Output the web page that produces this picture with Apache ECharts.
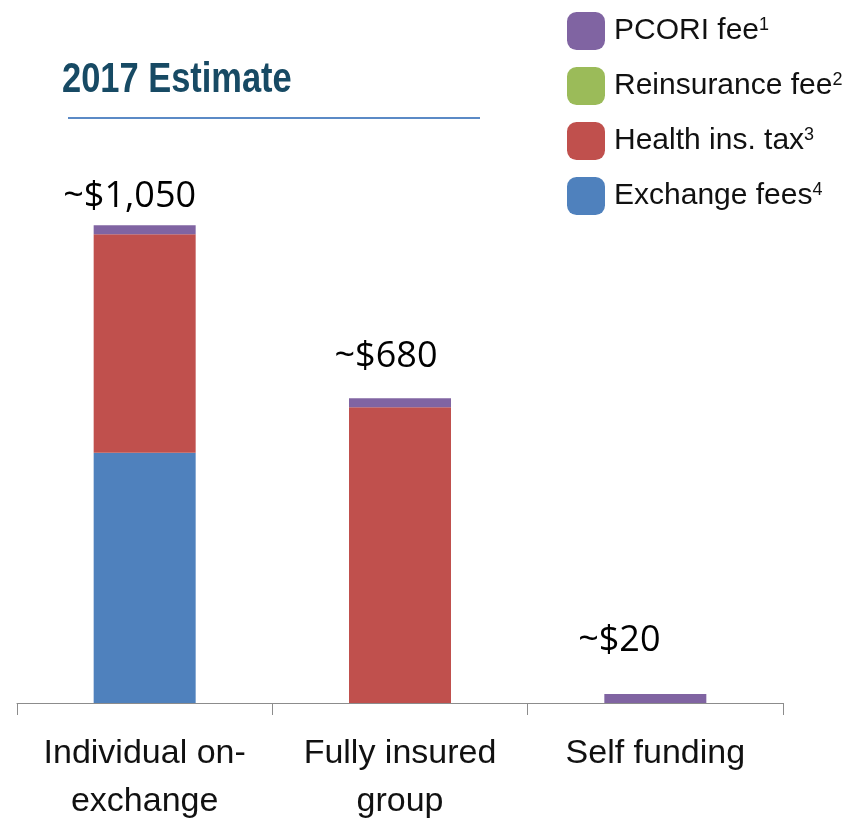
<!DOCTYPE html>
<html>
<head>
<meta charset="utf-8">
<script src="https://cdn.jsdelivr.net/npm/echarts@6/dist/echarts.min.js"></script>
<style>html,body{margin:0;padding:0;background:#fff}#c{width:850px;height:822px}</style>
</head>
<body>
<div id="c"></div>
<script>
const categories = ['Individual on-\nexchange', 'Fully insured\ngroup', 'Self funding'];
const exchangeFees = [550, 0, 0];
const healthInsTax = [480, 650, 0];
const reinsuranceFee = [0, 0, 0];
const pcoriFee = [20, 20, 20];
const totalLabels = ['~$1,050', '~$680', '~$20'];
const seriesNames = ['PCORI fee', 'Reinsurance fee', 'Health ins. tax', 'Exchange fees'];
const seriesNotes = ['1', '2', '3', '4'];
const titleText = '2017 Estimate';

const SANS = '"Liberation Sans", Arial, sans-serif';
const colors = {
  'PCORI fee': '#8064a2',
  'Reinsurance fee': '#9bbb59',
  'Health ins. tax': '#c0504d',
  'Exchange fees': '#4f81bd'
};
const labelShift = [[-15, 0], [-14, -12], [-36, -24]];

const chart = echarts.init(document.getElementById('c'));
function barSeries(name, values, extra) {
  return Object.assign({
    name: name,
    type: 'bar',
    stack: 'total',
    barWidth: 102,
    itemStyle: { color: colors[name] },
    data: values
  }, extra || {});
}
const option = {
  animation: false,
  graphic: [{
    type: 'text',
    x: 62,
    y: 59,
    scaleX: 0.82,
    style: {
      text: titleText,
      fontFamily: SANS,
      fontWeight: 'bold',
      fontSize: 42,
      fill: '#174a64',
      textVerticalAlign: 'top'
    }
  }, {
    type: 'line',
    shape: { x1: 68, y1: 118, x2: 480, y2: 118 },
    style: { stroke: '#5b8ac6', lineWidth: 2 }
  }],
  legend: {
    orient: 'vertical',
    left: 562,
    top: 7,
    itemWidth: 38,
    itemHeight: 38,
    itemGap: 17,
    icon: 'roundRect',
    selectedMode: false,
    data: seriesNames,
    formatter: function (name) {
      return '{a|' + name + '}{s|' + seriesNotes[seriesNames.indexOf(name)] + '}';
    },
    textStyle: {
      rich: {
        a: { fontFamily: SANS, fontSize: 30, color: '#111', padding: [0, 0, 0, 4] },
        s: { fontFamily: SANS, fontSize: 18, color: '#111', verticalAlign: 'top' }
      }
    }
  },
  grid: { left: 17, right: 67, top: 157, bottom: 119, containLabel: false, outerBoundsMode: 'none' },
  xAxis: {
    type: 'category',
    data: categories,
    axisLine: { lineStyle: { color: '#8c8c8c', width: 1 } },
    axisTick: { show: true, length: 12, lineStyle: { color: '#8c8c8c' } },
    axisLabel: {
      interval: 0,
      margin: 27,
      fontFamily: SANS,
      fontSize: 34,
      lineHeight: 48,
      color: '#111'
    }
  },
  yAxis: { type: 'value', min: 0, max: 1200, show: false, splitLine: { show: false } },
  series: [
    barSeries('Exchange fees', exchangeFees),
    barSeries('Health ins. tax', healthInsTax),
    barSeries('Reinsurance fee', reinsuranceFee),
    barSeries('PCORI fee', pcoriFee.map(function (v, i) {
      return { value: v, label: { offset: labelShift[i] } };
    }), {
      label: {
        show: true,
        position: 'top',
        distance: 11,
        fontFamily: '"Open Sans", "Noto Sans", sans-serif',
        fontSize: 36,
        color: '#000',
        formatter: function (p) { return totalLabels[p.dataIndex]; }
      }
    })
  ]
};
chart.setOption(option);
</script>
</body>
</html>
